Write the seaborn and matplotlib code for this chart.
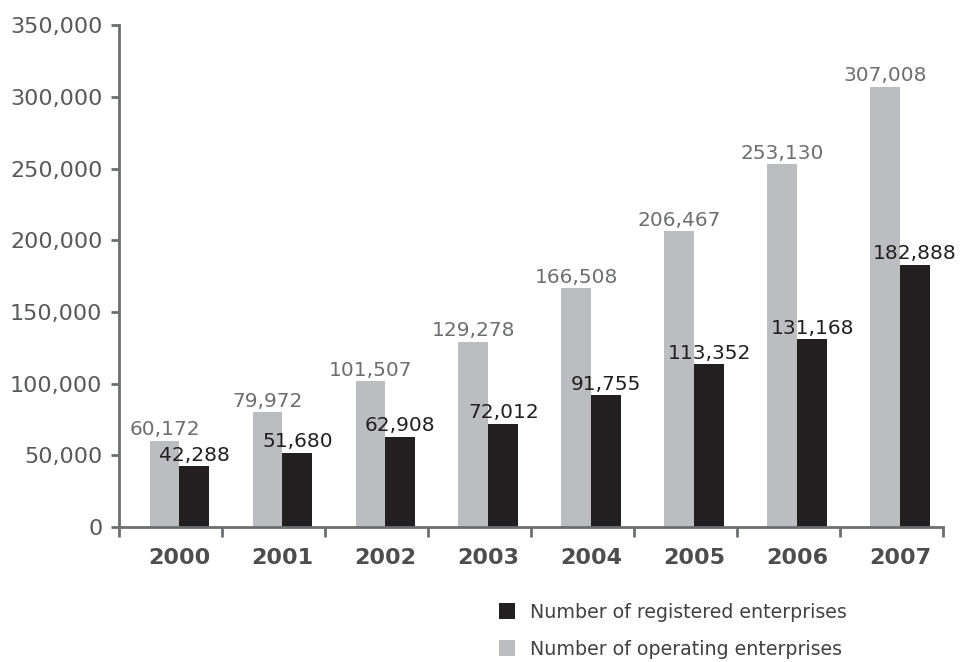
import matplotlib
matplotlib.use("Agg")
import matplotlib.pyplot as plt
import seaborn as sns
import pandas as pd
from matplotlib.lines import Line2D

# Data
years = ["2000", "2001", "2002", "2003", "2004", "2005", "2006", "2007"]
operating = [60172, 79972, 101507, 129278, 166508, 206467, 253130, 307008]
registered = [42288, 51680, 62908, 72012, 91755, 113352, 131168, 182888]
y_ticks = [0, 50000, 100000, 150000, 200000, 250000, 300000, 350000]

OP_LABEL = "Number of operating enterprises"
REG_LABEL = "Number of registered enterprises"
OP_COLOR = "#bcbdc0"
REG_COLOR = "#231f20"
AXIS_COLOR = "#6d6e71"

df = pd.DataFrame({
    "year": years * 2,
    "count": operating + registered,
    "series": [OP_LABEL] * len(years) + [REG_LABEL] * len(years),
})

sns.set_theme(style="white")
plt.rcParams["font.family"] = ["DejaVu Sans"]

fig = plt.figure(figsize=(9.6, 6.62), dpi=100)
ax = fig.add_axes([0.124, 0.204, 0.858, 0.758])

sns.barplot(
    data=df, x="year", y="count", hue="series",
    hue_order=[OP_LABEL, REG_LABEL],
    palette={OP_LABEL: OP_COLOR, REG_LABEL: REG_COLOR},
    width=0.58, saturation=1, linewidth=0, ax=ax, legend=False,
)

# Value labels above each bar
for container, values, color in zip(ax.containers, [operating, registered],
                                    ["#6d6e71", REG_COLOR]):
    ax.bar_label(container, labels=[f"{v:,}" for v in values],
                 padding=1, fontsize=14.5, color=color)

# Axes limits and ticks
ax.set_xlim(-0.587, 7.413)
ax.set_ylim(0, 350000)
ax.set_yticks(y_ticks)
ax.set_yticklabels([f"{v:,}" for v in y_ticks])

ax.set_xticks([-0.587 + k for k in range(len(years) + 1)])
ax.set_xticklabels([])
ax.set_xticks(range(len(years)), minor=True)
ax.set_xticklabels(years, minor=True, fontsize=16, fontweight="bold",
                   color="#4d4d4f")
ax.tick_params(axis="x", which="major", direction="out", length=7, width=2,
               color=AXIS_COLOR, bottom=True)
ax.tick_params(axis="x", which="minor", length=0, pad=15)
ax.tick_params(axis="y", direction="out", length=6, width=2, color=AXIS_COLOR,
               labelsize=16, labelcolor="#58595b", pad=6, left=True)

ax.set_xlabel("")
ax.set_ylabel("")
for side in ["top", "right"]:
    ax.spines[side].set_visible(False)
for side in ["left", "bottom"]:
    ax.spines[side].set_color(AXIS_COLOR)
    ax.spines[side].set_linewidth(2)

# Legend below the plot
handles = [
    Line2D([], [], marker="s", linestyle="", markersize=11,
           markerfacecolor=REG_COLOR, markeredgewidth=0, label=REG_LABEL),
    Line2D([], [], marker="s", linestyle="", markersize=11,
           markerfacecolor=OP_COLOR, markeredgewidth=0, label=OP_LABEL),
]
fig.legend(handles=handles, loc="upper left",
           bbox_to_anchor=(0.519, 0.089), frameon=False, fontsize=13.7,
           labelcolor="#414042", handletextpad=0.75, labelspacing=0.95,
           handlelength=0.9, borderaxespad=0, borderpad=0)

fig.savefig("out.png", dpi=100)
